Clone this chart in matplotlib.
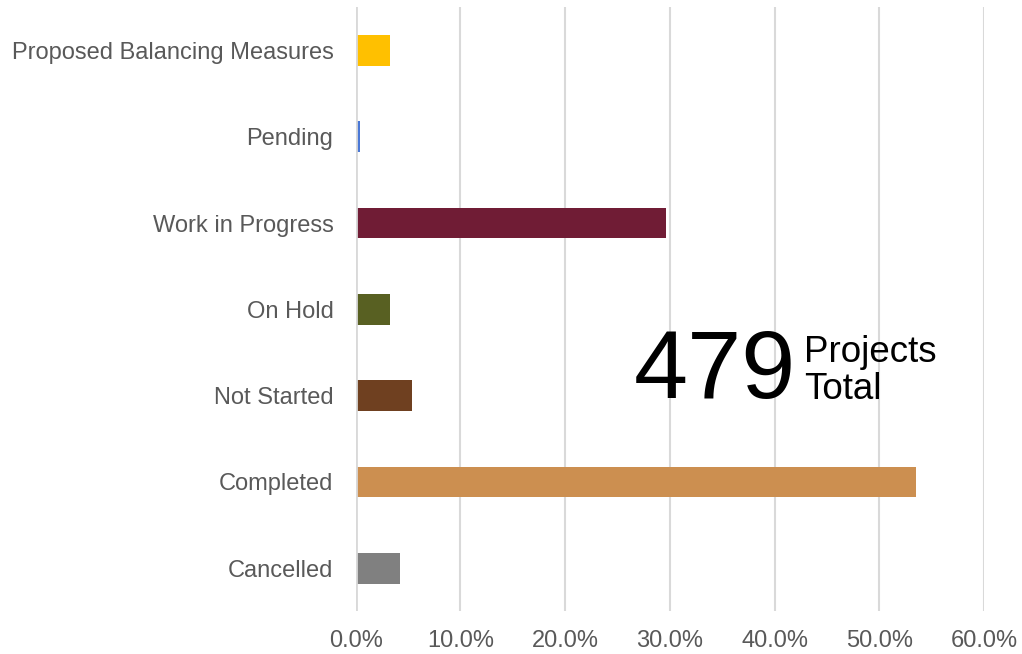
import matplotlib.pyplot as plt
from matplotlib.ticker import PercentFormatter

plt.rcParams['font.family'] = ['Liberation Sans', 'DejaVu Sans']

# data, bottom to top
categories = ['Cancelled', 'Completed', 'Not Started', 'On Hold',
              'Work in Progress', 'Pending', 'Proposed Balancing Measures']
shares = [4.2, 53.5, 5.4, 3.3, 29.6, 0.4, 3.3]
colors = ['#808080', '#CC8F50', '#6F4020', '#586022',
          '#701C35', '#4A78D6', '#FFC000']
total_projects = 479

fig = plt.figure(figsize=(10.22, 6.54), dpi=100)
ax = fig.add_axes([0.348, 0.065, 0.615, 0.924])

ax.barh(categories, shares, height=0.355, color=colors, zorder=3)

ax.set_xlim(0, 60)
ax.set_ylim(-0.5, len(categories) - 0.5)
ax.set_xticks(range(0, 61, 10))
ax.xaxis.set_major_formatter(PercentFormatter(decimals=1))
ax.grid(axis='x', color='#d9d9d9', linewidth=1.5, zorder=0)
for s in ax.spines.values():
    s.set_visible(False)
ax.axvline(0, color='#d9d9d9', linewidth=2, zorder=4)
ax.tick_params(length=0, labelsize=17, colors='#595959')
ax.tick_params(axis='x', pad=13)
ax.tick_params(axis='y', pad=16)

# big total annotation
ax.text(0.700, 0.394, str(total_projects), transform=ax.transAxes,
        fontsize=70, ha='right', va='center', color='black')
ax.text(0.714, 0.398, 'Projects\nTotal', transform=ax.transAxes,
        fontsize=26.5, ha='left', va='center', color='black', linespacing=1.1)

fig.savefig('out.png', dpi=100)
